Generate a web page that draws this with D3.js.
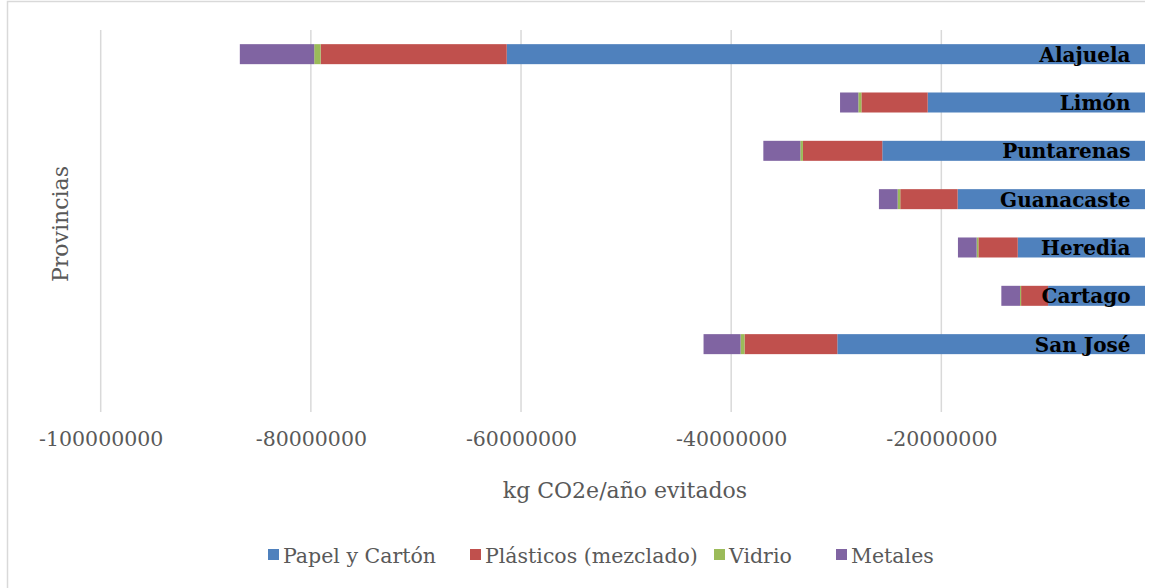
<!DOCTYPE html>
<html>
<head>
<meta charset="utf-8">
<script src="https://cdn.jsdelivr.net/npm/d3@7"></script>
<style>
  html, body { margin: 0; padding: 0; background: #fff; }
  svg { display: block; }
</style>
</head>
<body>
<svg id="chart" width="1151" height="588"></svg>
<script>
// Provinces, listed top to bottom as drawn
const provincias = ["Alajuela", "Limón", "Puntarenas", "Guanacaste", "Heredia", "Cartago", "San José"];

// Avoided emissions (kg CO2e/año) per material, same order as provincias
const papelCarton = [-61360000, -21300000, -25620000, -18450000, -12730000, -9840000, -29900000];
const plasticos   = [-17710000, -6310000, -7550000, -5460000, -3750000, -2570000, -8830000];
const vidrio      = [-610000, -290000, -250000, -250000, -160000, -100000, -380000];
const metales     = [-7080000, -1740000, -3520000, -1780000, -1780000, -1780000, -3520000];

const materiales = ["Papel y Cartón", "Plásticos (mezclado)", "Vidrio", "Metales"];
const colores    = ["#4f81bd", "#c0504d", "#9bbb59", "#8064a2"];

const xTicks = [-100000000, -80000000, -60000000, -40000000, -20000000];

const series = [papelCarton, plasticos, vidrio, metales];
const rows = provincias.map((p, i) => {
  const r = { provincia: p };
  materiales.forEach((m, k) => { r[m] = series[k][i]; });
  return r;
});

const svg = d3.select("#chart");
const H = 588;
const visibleW = 1145;          // drawing area is cut at this edge
const plotTop = 30, plotBottom = 412;
const serif = "'DejaVu Serif', serif";
const textGray = "#595959";

svg.append("defs").append("clipPath").attr("id", "cut")
  .append("rect").attr("x", 0).attr("y", 0).attr("width", visibleW).attr("height", H);

const g = svg.append("g").attr("clip-path", "url(#cut)");

// outer chart border
g.append("rect")
  .attr("x", 7.5).attr("y", 1.5)
  .attr("width", 1200).attr("height", 700)
  .attr("fill", "none").attr("stroke", "#d9d9d9").attr("stroke-width", 1.5);

const x = d3.scaleLinear().domain([-100000000, 0]).range([100.7, 1151.5]);

// seven province bands from the top of the plot, leaving space below
const step = 48.33;
const y = d3.scaleBand()
  .domain(provincias)
  .range([plotTop, plotTop + step * 7])
  .paddingInner(0.586)
  .paddingOuter(0.293);

// vertical gridlines
g.append("g").selectAll("line").data(xTicks).join("line")
  .attr("x1", d => x(d)).attr("x2", d => x(d))
  .attr("y1", plotTop).attr("y2", plotBottom)
  .attr("stroke", "#d9d9d9").attr("stroke-width", 1.5);

// bottom axis labels
const xAxis = d3.axisBottom(x).tickValues(xTicks).tickSize(0).tickPadding(0)
  .tickFormat(d => String(d));
const ax = g.append("g").attr("transform", `translate(0, ${plotBottom + 19})`).call(xAxis);
ax.select(".domain").remove();
ax.selectAll("text")
  .attr("font-family", serif).attr("font-size", 20.5)
  .attr("fill", textGray).attr("dy", "0.71em");

// stacked bars (all negative, stacking leftwards from zero)
const stack = d3.stack().keys(materiales).offset(d3.stackOffsetDiverging);
const stacked = stack(rows);

g.append("g").selectAll("g").data(stacked).join("g")
  .attr("fill", (d, i) => colores[i])
  .selectAll("rect").data(d => d).join("rect")
  .attr("x", d => x(Math.min(d[0], d[1])))
  .attr("width", d => Math.abs(x(d[1]) - x(d[0])))
  .attr("y", d => y(d.data.provincia))
  .attr("height", y.bandwidth());

// province labels inside the bars, near zero
g.append("g").selectAll("text").data(provincias).join("text")
  .attr("x", x(0) - 21)
  .attr("y", d => y(d) + y.bandwidth() / 2 + 7.5)
  .attr("text-anchor", "end")
  .attr("font-family", serif).attr("font-weight", "bold").attr("font-size", 20)
  .attr("fill", "#000")
  .text(d => d);

// axis titles
g.append("text")
  .attr("x", 625).attr("y", 498)
  .attr("text-anchor", "middle")
  .attr("font-family", serif).attr("font-size", 22).attr("fill", textGray)
  .text("kg CO2e/año evitados");

g.append("text")
  .attr("transform", `translate(68, 224) rotate(-90)`)
  .attr("text-anchor", "middle")
  .attr("font-family", serif).attr("font-size", 22).attr("fill", textGray)
  .text("Provincias");

// legend
const legendX = [268, 470, 714, 836];
const lg = g.append("g").attr("transform", "translate(0, 555)");
const items = lg.selectAll("g").data(materiales).join("g")
  .attr("transform", (d, i) => `translate(${legendX[i]}, 0)`);
items.append("rect")
  .attr("x", 0).attr("y", -6).attr("width", 11).attr("height", 11)
  .attr("fill", (d, i) => colores[i]);
items.append("text")
  .attr("x", 15).attr("y", 7.5)
  .attr("font-family", serif).attr("font-size", 20.5).attr("fill", textGray)
  .text(d => d);
</script>
</body>
</html>
